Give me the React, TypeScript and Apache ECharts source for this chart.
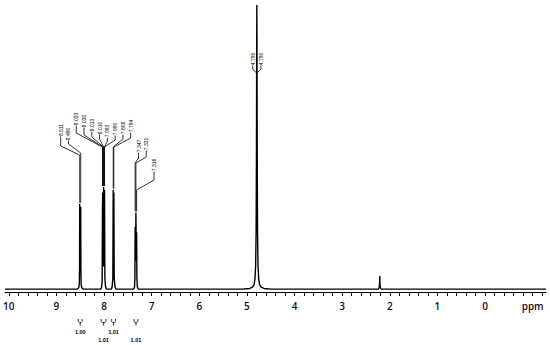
import React, { useEffect, useRef } from "react";
import * as echarts from "echarts";

// ---------- data ----------
const TICK_LABEL_VALUES = [10, 9, 8, 7, 6, 5, 4, 3, 2, 1, 0, -1];
const TICK_LABELS = ["10", "9", "8", "7", "6", "5", "4", "3", "2", "1", "0", "ppm"];

// spectrum points [ppm, intensity]
const BASE_LEFT = [[10.08, 0], [8.56, 0]];
const PEAK_850 = [[8.53, 0.6], [8.52, 1.8], [8.514, 8], [8.511, 30], [8.507, 9], [8.5005, 6], [8.494, 9], [8.49, 29], [8.487, 8], [8.481, 1.8], [8.47, 0.6], [8.44, 0]];
const PEAK_801 = [[8.07, 0], [8.05, 0.8], [8.04, 3], [8.033, 30], [8.0315, 22], [8.03, 34], [8.022, 8], [8.013, 32], [8.0115, 24], [8.01, 36], [8.002, 8], [7.993, 33], [7.9915, 25], [7.99, 35], [7.983, 4], [7.97, 1], [7.95, 0]];
const PEAK_780 = [[7.85, 0], [7.83, 0.8], [7.815, 4], [7.808, 35], [7.801, 10], [7.794, 34], [7.787, 4], [7.77, 0.8], [7.75, 0]];
const PEAK_733 = [[7.38, 0], [7.36, 0.8], [7.352, 4], [7.347, 22], [7.339, 10], [7.331, 27], [7.3235, 10], [7.316, 20], [7.311, 4], [7.3, 0.8], [7.28, 0]];
const PEAK_479 = [[5.092, 0], [4.942, 0.25], [4.882, 0.69], [4.852, 1.54], [4.832, 3.4], [4.817, 8.3], [4.807, 20], [4.7995, 50], [4.795, 86], [4.792, 100], [4.789, 86], [4.7845, 50], [4.777, 20], [4.767, 8.3], [4.752, 3.4], [4.732, 1.54], [4.702, 0.69], [4.642, 0.25], [4.492, 0]];
const PEAK_221 = [[2.24, 0], [2.225, 0.5], [2.215, 1.5], [2.21, 4.6], [2.205, 1.5], [2.195, 0.5], [2.18, 0]];
const BASE_RIGHT = [[-1.28, 0]];

const AROMATIC_LABELS = ["8.511", "8.490", "8.033", "8.030", "8.013", "8.010", "7.993", "7.990", "7.808", "7.794", "7.347", "7.331", "7.316"];
const SOLVENT_LABELS = ["4.795", "4.790"];

const INTEGRAL_RANGES = [[8.54, 8.46], [8.06, 7.96], [7.84, 7.76], [7.37, 7.29]];
const INTEGRAL_VALUES = ["1.00", "1.01", "1.01", "1.01"];

// ---------- layout (pixels) ----------
const LABEL_X0 = 60.7;
const LABEL_DX = 7.78;
const LABEL_BOTTOM = [136, 140, 125, 127, 131, 134, 137, 135, 134, 132, 152, 150, 171];
const LABEL_ELBOW = [146, 144, 133, 135, 137, 139, 141, 140, 139, 138, 158, 157, 180];
const LABEL_JOIN = [155, 153, 147, 147, 147, 147, 147, 147, 147, 147, 163, 163, 190];
const INTEGRAL_ROW = [332, 340, 332, 340];

const SPECTRUM = [
  ...BASE_LEFT,
  ...PEAK_850,
  ...PEAK_801,
  ...PEAK_780,
  ...PEAK_733,
  ...PEAK_479,
  ...PEAK_221,
  ...BASE_RIGHT,
];

const MINOR_TICKS: number[] = [];
for (let k = 50; k >= -6; k--) MINOR_TICKS.push(Math.round(k * 0.2 * 10) / 10);

function peakTop(ppm: number) {
  let m = 0;
  SPECTRUM.forEach(([x, y]) => {
    if (Math.abs(x - ppm) < 0.03 && y > m) m = y;
  });
  return m;
}

export default function App() {
  const ref = useRef<HTMLDivElement>(null);
  useEffect(() => {
    document.body.style.margin = "0";
    const chart = echarts.init(ref.current!, null, { renderer: "svg" });
    chart.setOption({
      animation: false,
      backgroundColor: "#fff",
      grid: { left: 5, right: 4, top: 5, bottom: 53 },
      xAxis: {
        type: "value",
        inverse: true,
        min: -1.28,
        max: 10.08,
        axisLine: { show: true, onZero: false, lineStyle: { color: "#000", width: 1 } },
        axisTick: { show: true, customValues: MINOR_TICKS, length: 4, lineStyle: { color: "#000", width: 1 } },
        axisLabel: {
          customValues: TICK_LABEL_VALUES,
          formatter: (v: number) => {
            const i = TICK_LABEL_VALUES.findIndex((t) => Math.abs(t - v) < 1e-6);
            return i >= 0 ? TICK_LABELS[i] : "";
          },
          margin: 9,
          color: "#111",
          fontSize: 10,
          fontWeight: 600,
          fontFamily: "Open Sans",
        },
        splitLine: { show: false },
      },
      yAxis: { type: "value", min: -1, max: 100, show: false },
      series: [
        {
          type: "line",
          data: SPECTRUM,
          showSymbol: false,
          symbol: "none",
          lineStyle: { color: "#000", width: 1.4 },
        },
      ],
    });

    const px = (ppm: number, h: number) => chart.convertToPixel({ gridIndex: 0 }, [ppm, h]) as number[];
    const graphics: any[] = [];
    const labelFont = { fontSize: 5, fontFamily: "Liberation Sans", fill: "#000", align: "center", verticalAlign: "middle" };
    const addLabel = (text: string, lx: number, bottom: number, elbow: number, join: number) => {
      const ppm = parseFloat(text);
      const [x, yTop] = px(ppm, peakTop(ppm));
      graphics.push({
        type: "text",
        x: lx,
        y: bottom - 6,
        rotation: Math.PI / 2,
        style: { text, ...labelFont },
      });
      const pts: number[][] = [[lx, bottom + 0.5], [lx, elbow], [x, join]];
      if (yTop - 1 > join) pts.push([x, yTop - 1]);
      graphics.push({
        type: "polyline",
        shape: { points: pts },
        style: { stroke: "#000", lineWidth: 0.8, fill: null },
      });
    };
    AROMATIC_LABELS.forEach((t, i) => addLabel(t, LABEL_X0 + i * LABEL_DX, LABEL_BOTTOM[i], LABEL_ELBOW[i], LABEL_JOIN[i]));
    SOLVENT_LABELS.forEach((t, i) => {
      const [x] = px(parseFloat(t), 0);
      addLabel(t, x + (i === 0 ? -4 : 4), 65, 69, 73);
    });

    INTEGRAL_RANGES.forEach(([a, b], i) => {
      const [x1] = px(a, 0);
      const [x2] = px(b, 0);
      const xc = (x1 + x2) / 2;
      graphics.push({
        type: "polyline",
        shape: { points: [[x1, 319], [x1, 321.5], [x1 + 1, 322.6], [x2 - 1, 322.6], [x2, 321.5], [x2, 319]] },
        style: { stroke: "#000", lineWidth: 0.8, fill: null },
      });
      graphics.push({
        type: "line",
        shape: { x1: xc, y1: 322.6, x2: xc, y2: 325.5 },
        style: { stroke: "#000", lineWidth: 0.8 },
      });
      graphics.push({
        type: "text",
        x: xc,
        y: INTEGRAL_ROW[i],
        style: { text: INTEGRAL_VALUES[i], fontSize: 5.5, fontWeight: "bold", fontFamily: "Liberation Sans", fill: "#000", align: "center", verticalAlign: "middle" },
      });
    });

    chart.setOption({ graphic: graphics });
    return () => chart.dispose();
  }, []);
  return <div ref={ref} style={{ width: 550, height: 345 }} />;
}
